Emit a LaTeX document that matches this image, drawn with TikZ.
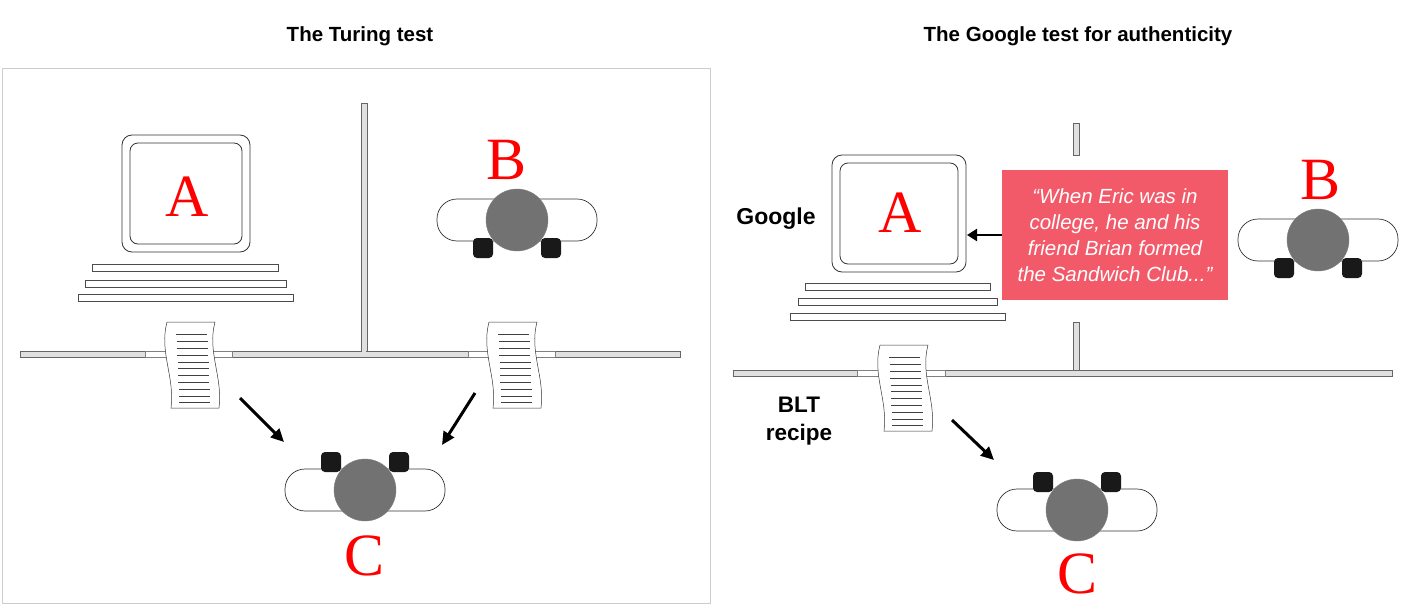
\documentclass[tikz,border=0pt]{standalone}
\usepackage{fontspec}
\setmainfont{Liberation Serif}
\setsansfont{Liberation Sans}
\usetikzlibrary{arrows.meta}
\definecolor{boxred}{HTML}{F25A6A}
\definecolor{headgray}{HTML}{727272}
\tikzset{
  title/.style={font=\sffamily\bfseries\fontsize{20.5}{24}\selectfont},
  letter/.style={text=red,font=\fontsize{60}{60}\selectfont},
  side/.style={font=\sffamily\bfseries\fontsize{23}{27}\selectfont,align=center},
  bar/.style={draw=black!70,fill=white,line width=0.8pt},
  wall/.style={draw=black!60,fill=black!12,line width=0.8pt},
  slot/.style={draw=black!50,fill=white,line width=0.6pt},
  move/.style={-{Triangle[length=13pt,width=12pt]},line width=3pt},
  pics/person/.style={code={
    \draw[black!80,fill=white,line width=0.7pt,rounded corners=20pt] (-80,-21) rectangle (80,21);
    \fill[black!90,rounded corners=4pt] (-44,#1*18) rectangle (-24,#1*38);
    \fill[black!90,rounded corners=4pt] (24,#1*18) rectangle (44,#1*38);
    \draw[black!50,fill=headgray] (0,0) circle (31);
  }},
  pics/paper/.style={code={
    \draw[black!80,fill=white,line width=0.5pt] (0,0) .. controls (-8,30) and (8,55) .. (4,86)
      -- (52,86) .. controls (56,55) and (40,30) .. (48,0) -- cycle;
    \foreach \k in {1,...,11}
      \draw[black!75,line width=0.9pt] (9+\k*0.3,6+\k*6.8) -- (40+\k*0.3,6+\k*6.8);
  }},
  pics/computer/.style={code={
    \draw[black!80,line width=0.8pt,rounded corners=10pt] (0,0) rectangle (#1,117);
    \draw[black!80,line width=0.8pt,rounded corners=8pt] (8,8) rectangle (#1-8,109);
  }}
}
\begin{document}
\begin{tikzpicture}[x=1pt,y=-1pt]
\useasboundingbox (0,0) rectangle (1419,605);
% titles
\node[title] (t1) at (360,36) {The Turing test};
\node[title] (t2) at (1078,36) {The Google test for authenticity};
\draw[black!20,line width=0.8pt] (2,68) rectangle (710,603);
% ---- Turing test ----
\pic at (122,135) {computer=128};
\node[letter] (a1) at (187,197) {A};
\draw[bar] (92,264) rectangle (278,271);
\draw[bar] (85,280) rectangle (286,287);
\draw[bar] (78,294) rectangle (293,301);
\draw[wall] (361,103) rectangle (367,354);
\draw[wall] (20,351) rectangle (680,357);
\draw[slot] (145,351) rectangle (232,357);
\draw[slot] (468,351) rectangle (555,357);
\fill[black!12] (362,350) rectangle (366,352);
\pic at (167,322) {paper};
\pic at (489,322) {paper};
\pic at (517,220) {person=1};
\node[letter] (b1) at (507,160) {B};
\pic at (365,490) {person=-1};
\node[letter] (c1) at (365,556) {C};
\draw[move] (240,398) -- (284,442);
\draw[move] (475,393) -- (442,445);
% ---- Google test ----
\pic at (832,155) {computer=134};
\node[letter] (a2) at (900,213) {A};
\draw[bar] (805,283) rectangle (990,290);
\draw[bar] (798,298) rectangle (997,305);
\draw[bar] (790,313) rectangle (1005,320);
\draw[wall] (1073,123) rectangle (1079,155);
\draw[wall] (1073,322) rectangle (1079,373);
\draw[wall] (733,370) rectangle (1392,376);
\draw[slot] (857,370) rectangle (945,376);
\pic at (880,345) {paper};
\node[side] (google) at (776,219) {Google};
\node[side,font=\sffamily\bfseries\fontsize{22.5}{28}\selectfont] (blt) at (799,421) {BLT\\recipe};
\node[fill=boxred,text=white,minimum width=226pt,minimum height=130pt,align=center,
  font=\sffamily\itshape\fontsize{20.5}{26}\selectfont] (quote) at (1115,235)
  {``When Eric was in\\college, he and his\\friend Brian formed\\the Sandwich Club...''};
\draw[-{Triangle[length=10pt,width=12pt]},line width=2.2pt] (quote.west) -- (967,235);
\pic at (1318,240) {person=1};
\node[letter] (b2) at (1320,180) {B};
\pic at (1077,510) {person=-1};
\node[letter] (c2) at (1077,574) {C};
\draw[move] (952,420) -- (994,460);
\end{tikzpicture}
\end{document}
